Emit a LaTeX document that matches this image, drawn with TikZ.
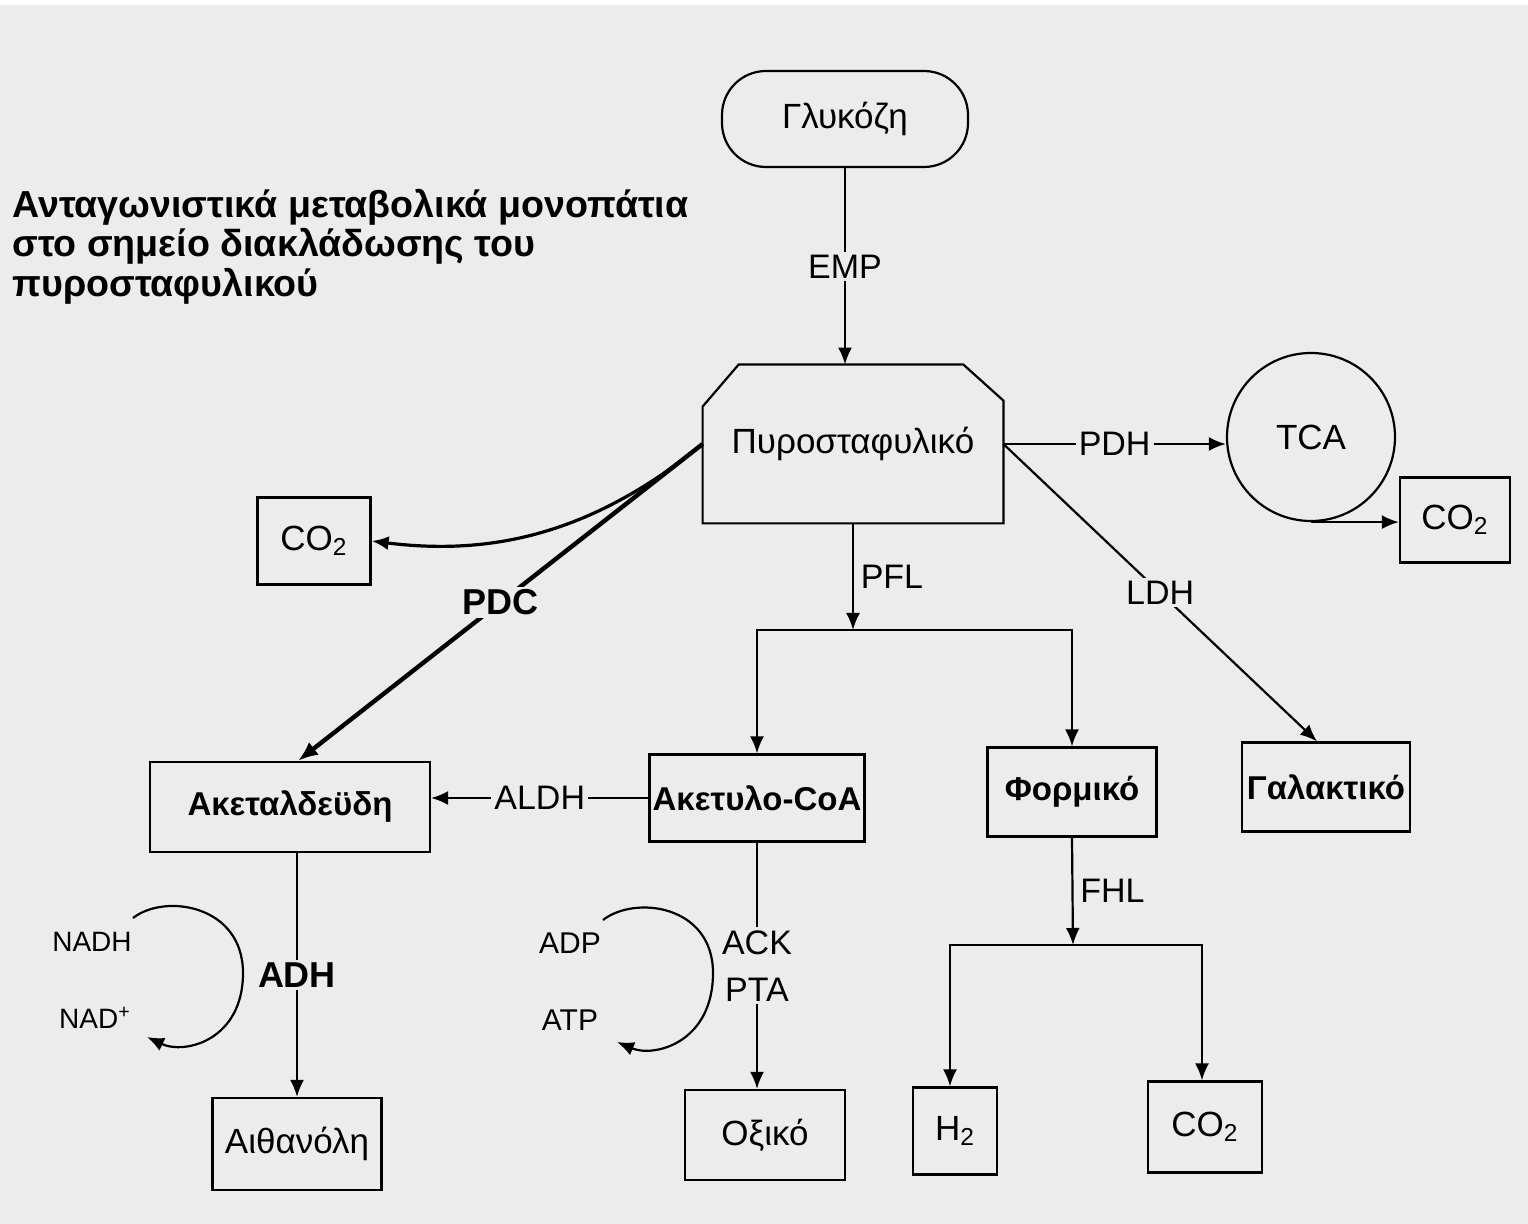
\documentclass[tikz,border=0pt]{standalone}
\usepackage{fontspec}
\setmainfont{Liberation Sans}
\usetikzlibrary{arrows.meta}
\definecolor{paper}{RGB}{236,236,236}
\tikzset{
  box/.style={draw,line width=1.1pt,inner sep=0pt,font=\fontsize{17.5}{19}\selectfont},
  boldbox/.style={box,font=\fontsize{16.5}{19}\selectfont\bfseries},
  enz/.style={fill=paper,inner sep=1.5pt,font=\fontsize{17}{23.5}\selectfont},
  cof/.style={inner sep=0pt,font=\fontsize{14}{16}\selectfont},
  flow/.style={line width=1.1pt,-{Latex[length=8.5pt,width=7pt]}},
  thickflow/.style={line width=2.2pt,-{Latex[length=10pt,width=8pt]}}
}
\begin{document}
\begin{tikzpicture}[x=0.5pt,y=-0.5pt]
\useasboundingbox (0,0) rectangle (1528,1224);
\fill[paper] (0,0) rectangle (1528,1224);
\fill[white] (0,0) rectangle (1528,5);

% title
\node[anchor=north west,align=left,inner sep=0pt,font=\fontsize{18.8}{19.6}\selectfont\bfseries] (title) at (12,189)
  {Ανταγωνιστικά μεταβολικά μονοπάτια\\στο σημείο διακλάδωσης του\\πυροσταφυλικού};

% boxes
\node[box,rounded corners=22pt,minimum width=123pt,minimum height=48pt] (glu) at (845,119) {Γλυκόζη};
\node[inner sep=0pt,minimum width=150pt,minimum height=79pt,font=\fontsize{17.5}{19}\selectfont] (pyr) at (853,444) {Πυροσταφυλικό};
\draw[line width=1.1pt] ([yshift=-21pt]pyr.north west) -- ([xshift=18pt]pyr.north west) -- ([xshift=-20pt]pyr.north east) -- ([yshift=-18pt]pyr.north east) -- (pyr.south east) -- (pyr.south west) -- cycle;
\node[box,circle,minimum size=84pt] (tca) at (1311,437) {TCA};
\node[box,minimum width=55pt,minimum height=42.5pt] (co2r) at (1455,520) {CO\textsubscript{2}};
\node[boldbox,minimum width=84pt,minimum height=44.5pt] (gal) at (1326,787) {Γαλακτικό};
\node[boldbox,minimum width=84.5pt,minimum height=44.5pt] (form) at (1072,792) {Φορμικό};
\node[boldbox,minimum width=107.5pt,minimum height=43.5pt] (acoa) at (757,798) {Ακετυλο-CoA};
\node[boldbox,minimum width=140pt,minimum height=45pt] (acal) at (290,807) {Ακεταλδεϋδη};
\node[box,minimum width=56.5pt,minimum height=43.5pt] (co2l) at (314,541) {CO\textsubscript{2}};
\node[box,minimum width=84.5pt,minimum height=46pt] (eth) at (297,1144) {Αιθανόλη};
\node[box,minimum width=80pt,minimum height=45pt] (acet) at (765,1135) {Οξικό};
\node[box,minimum width=42pt,minimum height=43.5pt] (h2) at (955,1131) {H\textsubscript{2}};
\node[box,minimum width=57pt,minimum height=45.5pt] (co2b) at (1205,1127) {CO\textsubscript{2}};

% branch points
\coordinate (pfl) at (853,630);
\coordinate (fhl) at (1073,945);

% pathways
\draw[flow] (glu.south) -- node[enz]{EMP} (glu.south |- pyr.north);
\draw[flow] (pyr.east) -- node[enz]{PDH} (tca.west |- pyr.east);
\draw[flow] (tca.south) -- (tca.south -| co2r.west);
\draw[flow] (pyr.east) -- node[enz]{LDH} ([xshift=-4.5pt]gal.north);
\draw[flow] (pyr.south) -- node[right,font=\fontsize{17}{19}\selectfont]{PFL} (pfl);
\draw[flow] (pfl) -| (acoa.north);
\draw[flow] (pfl) -| (form.north);
\draw[thickflow] (pyr.west) -- node[enz,font=\fontsize{18}{19}\selectfont\bfseries]{PDC} ([xshift=4pt]acal.north);
\draw[flow,line width=1.6pt] (pyr.west) .. controls +(-110,90) and +(120,15) .. (co2l.east);
\draw[flow] (acoa.west) -- node[enz]{ALDH} (acoa.west -| acal.east);
\draw[flow] (eth.north |- acal.south) -- node[enz,font=\fontsize{18}{19}\selectfont\bfseries]{ADH} (eth.north);
\draw[flow] (acoa.south) -- node[enz,align=center]{ACK\\PTA} (acoa.south |- acet.north);
\draw[flow] (form.south) -- node[right,font=\fontsize{17}{19}\selectfont]{FHL} (fhl);
\draw[flow] (fhl) -| ([xshift=-2.5pt]h2.north);
\draw[flow] (fhl) -| ([xshift=-1.5pt]co2b.north);

% cofactor cycles
\coordinate (nadh) at (133,918);
\coordinate (nad) at (147,1037);
\draw[flow] (nadh) .. controls (165,893) and (243,905) .. (243,973) .. controls (243,1040) and (185,1055) .. (nad);
\node[cof] (nadhl) at (92,942) {NADH};
\node[cof] (nadl) at (95,1018) {NAD\textsuperscript{+}};
\coordinate (adp) at (603,920);
\coordinate (atp) at (617,1042);
\draw[flow] (adp) .. controls (635,895) and (713,905) .. (713,973) .. controls (713,1042) and (655,1058) .. (atp);
\node[cof,font=\fontsize{15}{17}\selectfont] (adpl) at (570,943) {ADP};
\node[cof,font=\fontsize{15}{17}\selectfont] (atpl) at (570,1020) {ATP};
\end{tikzpicture}
\end{document}
